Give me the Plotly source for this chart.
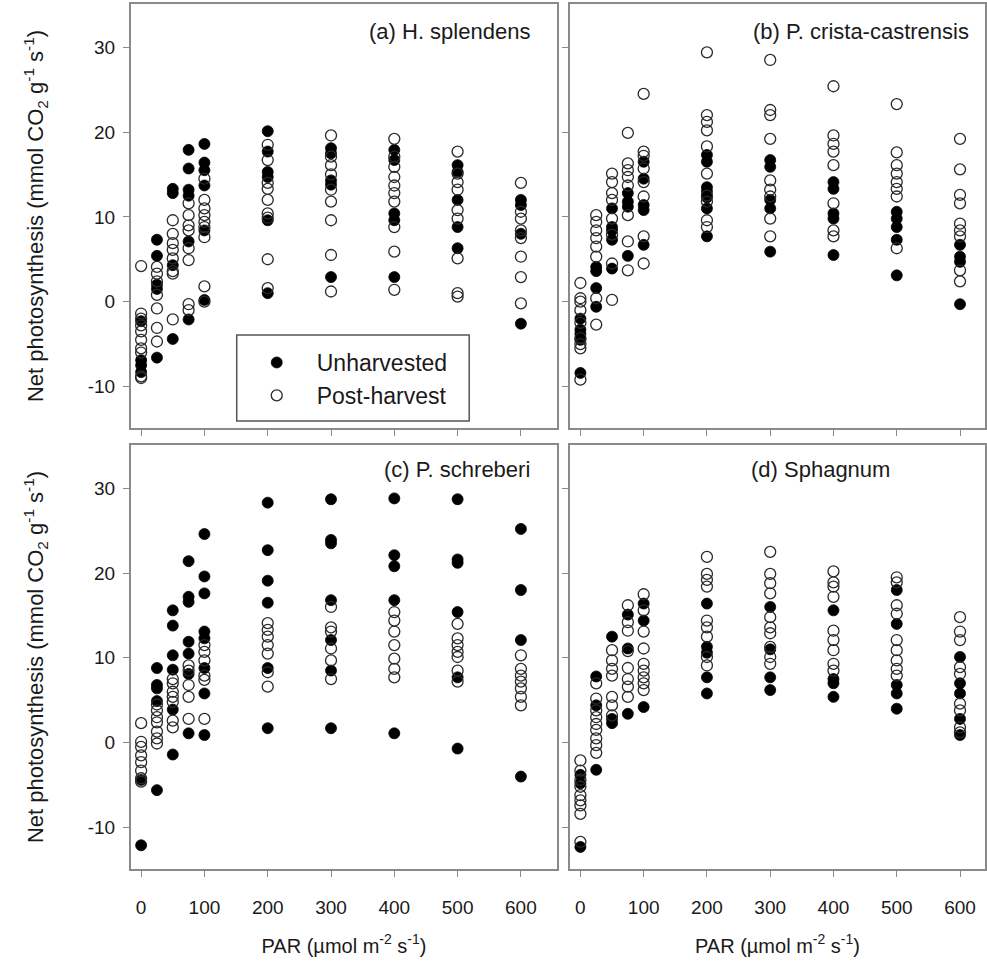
import plotly.graph_objects as go

# ---------------- data ----------------
PAR_LEVELS = [0, 25, 50, 75, 100, 200, 300, 400, 500, 600]

x_tick_vals = [0, 100, 200, 300, 400, 500, 600]
x_tick_labels = ["0", "100", "200", "300", "400", "500", "600"]
y_tick_vals = [-10, 0, 10, 20, 30]
y_tick_labels = ["-10", "0", "10", "20", "30"]

panel_titles = ["(a) H. splendens", "(b) P. crista-castrensis", "(c) P. schreberi", "(d) Sphagnum"]
series_names = ["Unharvested", "Post-harvest"]

# (a) H. splendens
hs_unharvested = [
    [-2.3, -6.9, -7.5, -8.3],
    [7.3, 5.4, 2.0, 1.5, -6.6],
    [13.3, 12.8, 4.3, -4.4],
    [17.9, 15.7, 13.2, 12.5, 7.1, -2.1],
    [18.6, 16.4, 15.5, 13.7, 8.4, 0.2],
    [20.1, 17.7, 15.3, 14.7, 9.6, 1.0],
    [18.1, 17.5, 14.3, 13.8, 2.9],
    [17.9, 16.7, 10.4, 9.6, 2.9],
    [16.1, 15.3, 12.0, 8.8, 6.3],
    [12.0, 11.4, 8.0, -2.6],
]
hs_postharvest = [
    [4.2, -1.4, -2.0, -2.8, -3.5, -4.5, -5.5, -6.0, -8.8, -9.0],
    [4.1, 3.3, 2.4, 0.8, -0.8, -3.1, -4.7],
    [9.6, 8.0, 6.9, 6.1, 5.1, 3.6, 3.3, -2.1],
    [11.6, 10.2, 9.0, 8.4, 6.3, 4.9, -0.3, -1.0],
    [14.5, 12.0, 11.0, 10.2, 9.4, 8.8, 7.6, 1.8, 0.0],
    [18.5, 16.7, 14.0, 13.3, 12.0, 10.4, 9.9, 5.0, 1.6],
    [19.6, 17.1, 16.1, 15.0, 13.2, 11.8, 9.6, 5.5, 1.2],
    [19.2, 17.1, 15.9, 14.7, 13.7, 12.8, 11.8, 8.8, 5.9, 1.4],
    [17.7, 15.1, 14.1, 13.2, 10.8, 9.8, 5.1, 1.0, 0.6],
    [14.0, 10.6, 9.8, 8.4, 7.5, 5.3, 2.9, -0.2],
]

# (b) P. crista-castrensis
pc_unharvested = [
    [-2.0, -3.3, -3.8, -4.5, -8.4],
    [4.1, 3.6, 1.6, -0.6],
    [11.0, 8.8, 8.4, 7.3, 3.9],
    [12.8, 11.8, 11.2, 5.4],
    [16.5, 14.5, 11.4, 10.8, 6.7],
    [17.3, 16.5, 13.5, 13.0, 12.3, 11.0, 7.7],
    [16.7, 15.9, 12.0, 11.0, 5.9],
    [14.1, 13.3, 10.4, 9.8, 5.5],
    [10.6, 9.8, 8.8, 7.3, 3.1],
    [6.7, 5.3, 4.7, -0.3],
]
pc_postharvest = [
    [2.2, 0.4, 0.0, -1.0, -2.5, -4.3, -5.0, -5.5, -9.2],
    [10.2, 9.4, 8.4, 7.5, 6.5, 5.3, 0.4, -2.7],
    [15.1, 14.1, 12.8, 12.0, 9.8, 7.9, 4.5, 0.2],
    [19.9, 16.3, 15.5, 14.7, 13.7, 10.2, 7.1, 3.7],
    [24.5, 17.7, 17.2, 15.7, 14.1, 12.4, 7.7, 4.5],
    [29.4, 22.0, 21.2, 20.2, 18.3, 15.1, 12.5, 11.8, 9.6, 8.8],
    [28.5, 22.6, 22.0, 19.2, 14.3, 13.2, 12.4, 9.8, 7.7],
    [25.4, 19.6, 18.6, 17.7, 16.1, 11.6, 8.4, 7.7],
    [23.3, 17.6, 16.1, 15.1, 14.1, 13.3, 12.4, 6.3],
    [19.2, 15.6, 12.6, 11.6, 9.2, 8.4, 7.7, 3.7, 2.4],
]

# (c) P. schreberi
ps_unharvested = [
    [-4.4, -12.1],
    [8.8, 6.8, 6.4, 4.9, -5.6],
    [15.6, 13.8, 10.3, 8.6, 3.9, -1.4],
    [21.4, 17.2, 16.6, 11.9, 10.5, 8.1, 1.1],
    [24.6, 19.6, 17.6, 13.1, 12.3, 8.8, 5.8, 0.9],
    [28.3, 22.7, 19.1, 16.5, 8.8, 1.7],
    [28.7, 23.9, 23.5, 16.8, 12.1, 8.5, 1.7],
    [28.8, 22.1, 20.8, 16.8, 1.1],
    [28.7, 21.6, 21.2, 15.4, 7.7, -0.7],
    [25.2, 18.0, 12.1, -4.0],
]
ps_postharvest = [
    [2.3, 0.1, -0.5, -1.5, -2.3, -3.3, -4.2, -4.6],
    [4.5, 3.8, 3.0, 2.4, 1.3, 0.5, -0.1],
    [7.5, 7.0, 6.0, 5.4, 4.8, 2.6, 1.8],
    [9.1, 8.5, 6.8, 5.4, 2.8],
    [11.5, 10.7, 9.7, 7.9, 7.4, 2.8],
    [14.1, 13.3, 12.5, 11.5, 10.5, 8.3, 6.6],
    [16.0, 13.6, 13.1, 11.1, 9.7, 7.5],
    [15.4, 14.4, 13.1, 11.5, 9.9, 8.7, 7.7],
    [14.0, 12.3, 11.5, 10.7, 10.1, 8.5, 7.2],
    [10.3, 8.7, 7.9, 7.2, 6.4, 5.4, 4.4],
]

# (d) Sphagnum
sp_unharvested = [
    [-3.8, -4.8, -12.3],
    [7.8, 4.4, -3.2],
    [12.5, 2.8, 2.3],
    [15.1, 11.1, 3.4],
    [16.4, 14.4, 4.2],
    [16.4, 11.3, 10.6, 7.7, 5.8],
    [16.0, 11.0, 7.7, 6.2],
    [15.6, 7.5, 7.0, 5.4],
    [18.0, 14.0, 6.8, 5.8, 4.0],
    [10.1, 7.0, 5.8, 2.8, 0.9],
]
sp_postharvest = [
    [-2.1, -3.3, -4.4, -5.2, -6.2, -6.8, -7.4, -8.4, -11.7],
    [7.0, 5.2, 3.8, 3.0, 2.2, 1.5, 0.5, -0.3, -1.2],
    [10.9, 9.7, 8.7, 7.9, 5.4, 4.4, 3.2],
    [16.2, 14.2, 13.2, 10.8, 8.8, 7.5, 6.6, 5.4],
    [17.5, 15.6, 13.1, 11.1, 9.3, 8.5, 7.7, 7.0, 6.2],
    [21.9, 19.9, 19.2, 18.4, 14.4, 13.6, 12.5, 10.1, 9.1],
    [22.5, 19.9, 18.8, 17.6, 14.8, 13.6, 12.9, 11.3, 10.1, 9.3],
    [20.2, 18.9, 18.4, 17.2, 13.2, 12.1, 10.9, 9.3, 8.5],
    [19.5, 18.9, 16.2, 15.2, 12.1, 10.9, 9.7, 8.7, 7.9],
    [14.8, 13.1, 12.1, 8.9, 8.1, 4.6, 3.8, 1.8, 1.2],
]

panels = [
    (hs_unharvested, hs_postharvest),
    (pc_unharvested, pc_postharvest),
    (ps_unharvested, ps_postharvest),
    (sp_unharvested, sp_postharvest),
]


def flatten(levels, groups):
    xs, ys = [], []
    for p, vals in zip(levels, groups):
        for v in vals:
            xs.append(p)
            ys.append(v)
    return xs, ys


# ---------------- figure ----------------
FONT = "Liberation Sans, Arial, sans-serif"
TXT = "#1a1a1a"
AX = "#8a8a8a"

fig = go.Figure()
suffixes = ["", "2", "3", "4"]
for i, (unh, post) in enumerate(panels):
    s = suffixes[i]
    xu, yu = flatten(PAR_LEVELS, unh)
    xp, yp = flatten(PAR_LEVELS, post)
    fig.add_trace(go.Scatter(
        x=xu, y=yu, mode="markers", name=series_names[0],
        xaxis="x" + s, yaxis="y" + s, showlegend=(i == 0), legendrank=1,
        marker=dict(symbol="circle", size=11, color="black",
                    line=dict(width=0.8, color="black")),
    ))
    fig.add_trace(go.Scatter(
        x=xp, y=yp, mode="markers", name=series_names[1],
        xaxis="x" + s, yaxis="y" + s, showlegend=(i == 0), legendrank=2,
        marker=dict(symbol="circle-open", size=11, color="#2a2a2a",
                    line=dict(width=1.3, color="#2a2a2a")),
    ))

ytitle = "Net photosynthesis (mmol CO<sub>2</sub> g<sup>-1</sup> s<sup>-1</sup>)"
xtitle = "PAR (\u00b5mol m<sup>-2</sup> s<sup>-1</sup>)"

common = dict(showline=True, linecolor=AX, linewidth=2, mirror=True,
              ticks="outside", tickcolor=AX, ticklen=6, tickwidth=1,
              showgrid=False, zeroline=False,
              tickfont=dict(family=FONT, size=19, color=TXT))

# plot area: 131..987 px wide (856), 4..869 px tall (865)
XL = [0.0, 0.4988]
XR = [0.514, 1.0]
YT = [0.5098, 1.0]
YB = [0.0, 0.4902]
RANGE_XL = [-16, 657]
RANGE_XR = [-16.5, 639.5]
RANGE_Y = [-14.9, 35.1]


def xax(domain, anchor, rng, labels, title=None):
    d = dict(common, domain=domain, anchor=anchor, range=rng,
             tickvals=x_tick_vals, ticktext=x_tick_labels,
             showticklabels=labels, ticklabelstandoff=14)
    if title:
        d["title"] = dict(text=title, font=dict(family=FONT, size=20, color=TXT),
                          standoff=22)
    return d


def yax(domain, anchor, labels, title=None):
    d = dict(common, domain=domain, anchor=anchor, range=RANGE_Y,
             tickvals=y_tick_vals, ticktext=y_tick_labels,
             showticklabels=labels, ticklabelstandoff=4)
    if title:
        d["title"] = dict(text=title, font=dict(family=FONT, size=22, color=TXT),
                          standoff=38)
    return d


fig.update_layout(
    width=987, height=977,
    margin=dict(l=131, r=0, t=4, b=108),
    paper_bgcolor="white", plot_bgcolor="white",
    font=dict(family=FONT, color=TXT),
    xaxis=xax(XL, "y", RANGE_XL, False),
    yaxis=yax(YT, "x", True, ytitle),
    xaxis2=xax(XR, "y2", RANGE_XR, False),
    yaxis2=yax(YT, "x2", False),
    xaxis3=xax(XL, "y3", RANGE_XL, True, xtitle),
    yaxis3=yax(YB, "x3", True, ytitle),
    xaxis4=xax(XR, "y4", RANGE_XR, True, xtitle),
    yaxis4=yax(YB, "x4", False),
    showlegend=True,
    legend=dict(x=0.1238, y=0.6104, xanchor="left", yanchor="top",
                bgcolor="rgba(0,0,0,0)", borderwidth=0,
                font=dict(family=FONT, size=23, color=TXT),
                indentation=0, itemwidth=70, tracegroupgap=0),
    shapes=[dict(type="rect", xref="paper", yref="paper",
                 x0=0.1238, x1=0.396, y0=0.5179, y1=0.6173,
                 fillcolor="white", line=dict(color="#555555", width=1.5),
                 layer="above")],
)

ann_pos = [
    ("x", "y", 617, 31.8, "right"),
    ("x2", "y2", 617, 31.8, "right"),
    ("x3", "y3", 617, 32.2, "right"),
    ("x4", "y4", 266, 32.2, "left"),
]
for title, (xr, yr, xv, yv, anc) in zip(panel_titles, ann_pos):
    fig.add_annotation(text=title, xref=xr, yref=yr, x=xv, y=yv,
                       xanchor=anc, yanchor="middle", showarrow=False,
                       font=dict(family=FONT, size=22, color=TXT))

fig.write_html("out.html")
